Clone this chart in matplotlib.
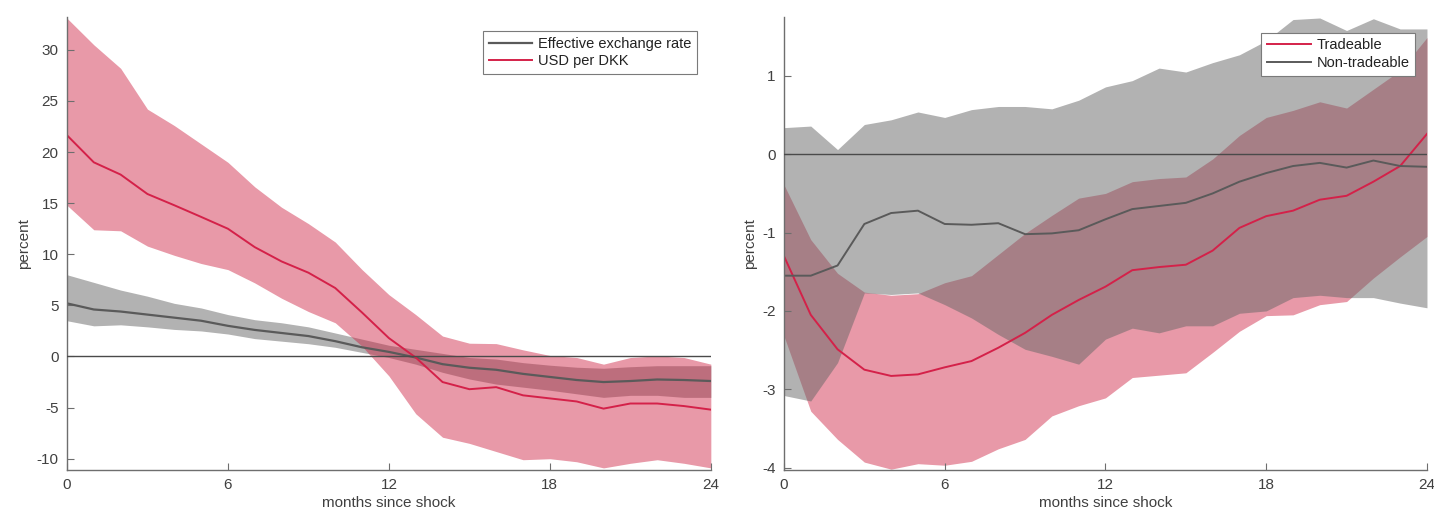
import numpy as np
import matplotlib
matplotlib.use("Agg")
import matplotlib.pyplot as plt

# ---- datos ----
months = np.arange(0, 25)

# panel izquierdo: tipo de cambio
usd_dkk = [21.65, 19.0, 17.8, 15.9, 14.8, 13.66, 12.5, 10.7, 9.3, 8.2, 6.7, 4.3, 1.8,
           -0.1, -2.5, -3.2, -3.0, -3.8, -4.1, -4.4, -5.1, -4.6, -4.6, -4.85, -5.2]
usd_dkk_hi = [33.1, 30.5, 28.2, 24.2, 22.6, 20.8, 19.0, 16.6, 14.6, 13.0, 11.2, 8.5, 6.05,
              4.1, 2.0, 1.3, 1.26, 0.65, 0.1, -0.1, -0.75, -0.1, 0.06, -0.1, -0.75]
usd_dkk_lo = [14.8, 12.4, 12.3, 10.8, 9.9, 9.1, 8.5, 7.2, 5.7, 4.4, 3.3, 1.0, -1.9,
              -5.6, -7.9, -8.5, -9.3, -10.1, -10.0, -10.3, -10.9, -10.45, -10.1, -10.45, -10.9]
eer = [5.2, 4.6, 4.4, 4.1, 3.8, 3.5, 3.0, 2.6, 2.3, 2.0, 1.5, 0.9, 0.45,
       -0.1, -0.75, -1.1, -1.3, -1.7, -2.0, -2.3, -2.5, -2.4, -2.25, -2.3, -2.4]
eer_hi = [8.0, 7.25, 6.5, 5.9, 5.2, 4.75, 4.1, 3.6, 3.3, 2.9, 2.3, 1.7, 1.1,
          0.7, 0.3, -0.1, -0.25, -0.6, -0.85, -1.05, -1.15, -1.0, -0.9, -0.9, -0.9]
eer_lo = [3.5, 3.0, 3.1, 2.9, 2.65, 2.5, 2.2, 1.75, 1.5, 1.25, 0.9, 0.4, -0.1,
          -0.75, -1.55, -2.2, -2.7, -3.0, -3.3, -3.65, -4.0, -3.8, -3.8, -4.0, -4.0]

# panel derecho: precios
trad = [-1.30, -2.05, -2.49, -2.75, -2.83, -2.81, -2.72, -2.64, -2.47, -2.28, -2.05, -1.86, -1.69,
        -1.48, -1.44, -1.41, -1.23, -0.94, -0.79, -0.72, -0.58, -0.53, -0.35, -0.15, 0.26]
trad_hi = [-0.39, -1.09, -1.52, -1.76, -1.80, -1.78, -1.64, -1.55, -1.28, -1.01, -0.78, -0.56, -0.50,
           -0.35, -0.31, -0.29, -0.06, 0.24, 0.47, 0.56, 0.67, 0.59, 0.83, 1.07, 1.49]
trad_lo = [-2.32, -3.28, -3.64, -3.93, -4.02, -3.95, -3.97, -3.92, -3.76, -3.64, -3.34, -3.21, -3.11,
           -2.85, -2.82, -2.79, -2.53, -2.26, -2.06, -2.05, -1.92, -1.88, -1.58, -1.31, -1.05]
nontrad = [-1.55, -1.55, -1.42, -0.89, -0.75, -0.72, -0.89, -0.90, -0.88, -1.02, -1.01, -0.97, -0.83,
           -0.70, -0.66, -0.62, -0.50, -0.35, -0.24, -0.15, -0.11, -0.17, -0.08, -0.15, -0.16]
nontrad_hi = [0.34, 0.36, 0.06, 0.38, 0.44, 0.54, 0.47, 0.57, 0.61, 0.61, 0.58, 0.69, 0.86,
              0.94, 1.10, 1.05, 1.17, 1.27, 1.45, 1.72, 1.74, 1.58, 1.73, 1.60, 1.60]
nontrad_lo = [-3.08, -3.15, -2.66, -1.77, -1.79, -1.77, -1.92, -2.09, -2.30, -2.49, -2.58, -2.68, -2.36,
              -2.22, -2.28, -2.19, -2.19, -2.03, -2.00, -1.83, -1.80, -1.83, -1.83, -1.90, -1.96]

xticks = [0, 6, 12, 18, 24]

# ---- estilo ----
RED = "#CC1D3E"
RED_LINE = "#D42149"
GRAY = "#666666"
GRAY_LINE = "#5A5A5A"
AXC = "#6E6E6E"
TXT = "#404040"

plt.rcParams["font.family"] = ["Liberation Sans", "DejaVu Sans"]
plt.rcParams["axes.unicode_minus"] = False

fig = plt.figure(figsize=(14.34, 5.21), dpi=100)
axL = fig.add_axes([0.0467, 0.098, 0.449, 0.869])
axR = fig.add_axes([0.5467, 0.098, 0.4484, 0.869])


def style(ax, ylim, yticks):
    ax.set_xlim(0, 24)
    ax.set_ylim(*ylim)
    ax.set_xticks(xticks)
    ax.set_yticks(yticks)
    for s in ("top", "right"):
        ax.spines[s].set_visible(False)
    for s in ("left", "bottom"):
        ax.spines[s].set_color(AXC)
        ax.spines[s].set_linewidth(1.0)
    ax.tick_params(direction="in", length=5, width=0.8, color=AXC,
                   labelcolor=TXT, labelsize=11, pad=6)
    ax.set_xlabel("months since shock", color=TXT, fontsize=11, labelpad=3)
    ax.set_ylabel("percent", color=TXT, fontsize=11, labelpad=4)
    ax.axhline(0, color="#4a4a4a", lw=1.0, zorder=5)


def legend(ax, anchor):
    leg = ax.legend(loc="upper right", bbox_to_anchor=anchor, fontsize=10.5,
                    handlelength=3.0, borderpad=0.4, labelspacing=0.25,
                    handletextpad=0.4, borderaxespad=0.0,
                    fancybox=False, framealpha=1.0)
    leg.get_frame().set_edgecolor("#7a7a7a")
    leg.get_frame().set_linewidth(0.8)
    leg.set_zorder(10)
    for t in leg.get_texts():
        t.set_color("#222222")
    return leg


# IZQUIERDA
style(axL, (-11.1, 33.2), [-10, -5, 0, 5, 10, 15, 20, 25, 30])
axL.fill_between(months, eer_lo, eer_hi, color=GRAY, alpha=0.5, lw=0)
axL.plot(months, eer, color=GRAY_LINE, lw=1.6, label="Effective exchange rate")
axL.fill_between(months, usd_dkk_lo, usd_dkk_hi, color=RED, alpha=0.45, lw=0)
axL.plot(months, usd_dkk, color=RED_LINE, lw=1.4, label="USD per DKK")
legend(axL, (0.979, 0.97))

# DERECHA
style(axR, (-4.03, 1.75), [-4, -3, -2, -1, 0, 1])
axR.fill_between(months, trad_lo, trad_hi, color=RED, alpha=0.45, lw=0)
axR.plot(months, trad, color=RED_LINE, lw=1.4, label="Tradeable")
axR.fill_between(months, nontrad_lo, nontrad_hi, color=GRAY, alpha=0.5, lw=0)
axR.plot(months, nontrad, color=GRAY_LINE, lw=1.4, label="Non-tradeable")
legend(axR, (0.982, 0.966))

fig.savefig("out.png", dpi=100, facecolor="white")
